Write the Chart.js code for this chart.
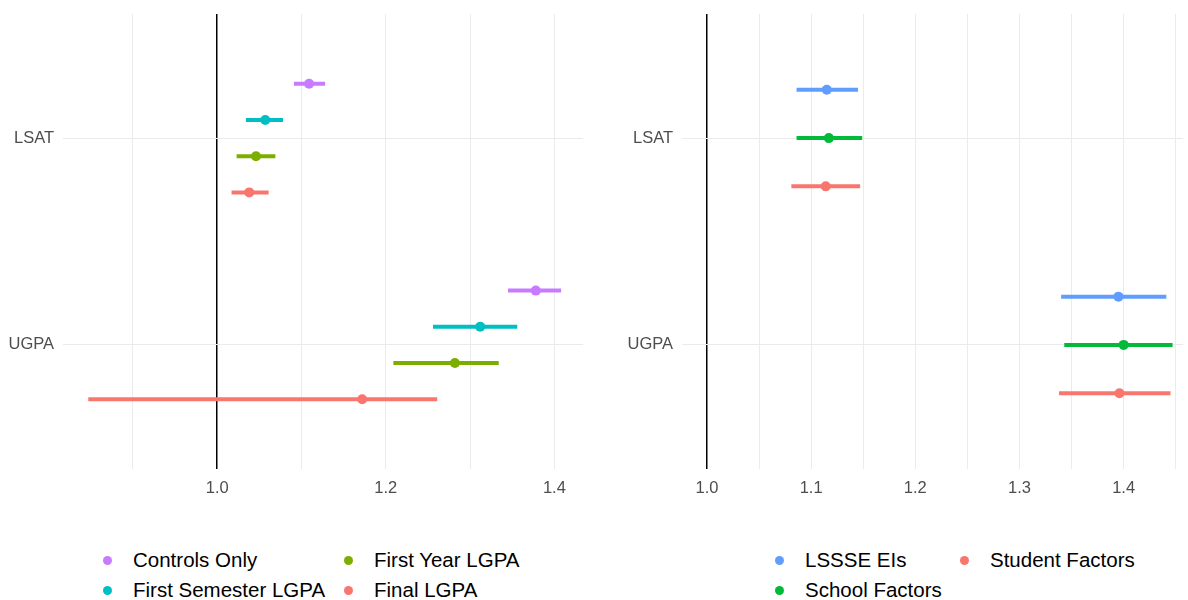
<!DOCTYPE html>
<html>
<head>
<meta charset="utf-8">
<script src="https://cdn.jsdelivr.net/npm/chart.js@4/dist/chart.umd.min.js"></script>
<style>
  html, body { margin: 0; padding: 0; background: #ffffff; }
  body { width: 1188px; height: 600px; position: relative; overflow: hidden;
         font-family: "Liberation Sans", Arial, sans-serif; }
  .panel { position: absolute; top: 0; width: 594px; height: 500px; }
  #leftPanel { left: 0; }
  #rightPanel { left: 594px; }
  .legend-item { position: absolute; height: 24px; display: flex; align-items: center;
                 white-space: nowrap; font-size: 20.5px; color: #000000; }
  .legend-dot { width: 9px; height: 9px; border-radius: 50%; flex: none; }
  .legend-text { margin-left: 21.5px; }
</style>
</head>
<body>
<div id="leftPanel" class="panel"><canvas id="leftChart" width="594" height="500"></canvas></div>
<div id="rightPanel" class="panel"><canvas id="rightChart" width="594" height="500"></canvas></div>
<div id="legends"></div>

<script>
// ---------- data ----------
const categories = ['LSAT', 'UGPA'];

// Left panel: odds ratios with confidence intervals, per model (values listed as [LSAT, UGPA])
const leftSeries = ['Controls Only', 'First Semester LGPA', 'First Year LGPA', 'Final LGPA'];
const leftColors = ['#C77CFF', '#00BFC4', '#7CAE00', '#F8766D'];
const leftEstimate = [[1.109, 1.378], [1.057, 1.312], [1.046, 1.282], [1.038, 1.172]];
const leftLower    = [[1.091, 1.345], [1.034, 1.256], [1.023, 1.209], [1.017, 0.847]];
const leftUpper    = [[1.128, 1.408], [1.078, 1.356], [1.069, 1.334], [1.061, 1.261]];
const leftTicks    = [0.9, 1.0, 1.1, 1.2, 1.3, 1.4];
const leftTickLabels = [1.0, 1.2, 1.4];

// Right panel
const rightSeries = ['LSSSE EIs', 'School Factors', 'Student Factors'];
const rightColors = ['#619CFF', '#00BA38', '#F8766D'];
const rightEstimate = [[1.115, 1.395], [1.117, 1.400], [1.114, 1.396]];
const rightLower    = [[1.086, 1.340], [1.086, 1.343], [1.081, 1.338]];
const rightUpper    = [[1.145, 1.441], [1.149, 1.447], [1.147, 1.445]];
const rightTicks    = [1.0, 1.05, 1.1, 1.15, 1.2, 1.25, 1.3, 1.35, 1.4, 1.45];
const rightTickLabels = [1.0, 1.1, 1.2, 1.3, 1.4];

// ---------- drawing ----------
const FONT = '"Liberation Sans", Arial, sans-serif';
const DODGE = 0.7;

function near(a, b) { return Math.abs(a - b) < 1e-6; }

function buildDatasets(series, colors, est, lo, hi) {
  const n = series.length;
  const sets = [];
  series.forEach((name, s) => {
    const offset = (s - (n - 1) / 2) * (DODGE / n);
    categories.forEach((cat, c) => {
      const y = c + 1 + offset;
      sets.push({
        label: name + ' interval ' + cat,
        data: [{ x: lo[s][c], y: y }, { x: hi[s][c], y: y }],
        showLine: true,
        borderColor: colors[s],
        borderWidth: 4,
        borderCapStyle: 'butt',
        pointRadius: 0,
        pointHoverRadius: 0
      });
    });
    sets.push({
      label: name,
      data: categories.map((cat, c) => ({ x: est[s][c], y: c + 1 + offset })),
      showLine: false,
      pointRadius: 5,
      pointHoverRadius: 5,
      pointBorderWidth: 0,
      pointBackgroundColor: colors[s],
      backgroundColor: colors[s],
      borderColor: colors[s]
    });
  });
  return sets;
}

// keep the plot area flush with the layout padding (no room reserved for edge labels)
function noEdgePadding(scale) {
  scale.paddingTop = 0;
  scale.paddingBottom = 0;
  scale.paddingLeft = 0;
  scale.paddingRight = 0;
}

function makePanel(canvasId, opts) {
  return new Chart(document.getElementById(canvasId), {
    type: 'scatter',
    data: { datasets: buildDatasets(opts.series, opts.colors, opts.est, opts.lo, opts.hi) },
    options: {
      responsive: false,
      animation: false,
      events: [],
      layout: { padding: { top: 14, right: opts.padRight, left: 0, bottom: 0 } },
      plugins: { legend: { display: false }, tooltip: { enabled: false } },
      scales: {
        x: {
          type: 'linear',
          min: opts.xMin,
          max: opts.xMax,
          afterBuildTicks: (scale) => { scale.ticks = opts.ticks.map(v => ({ value: v })); },
          afterFit: (scale) => { scale.height = 31; noEdgePadding(scale); },
          border: { display: false },
          grid: {
            drawTicks: false,
            color: (ctx) => near(ctx.tick.value, 1) ? '#000000' : '#EBEBEB',
            lineWidth: (ctx) => near(ctx.tick.value, 1) ? 1.5 : 1
          },
          ticks: {
            autoSkip: false,
            maxRotation: 0,
            padding: 10,
            color: '#4D4D4D',
            font: { family: FONT, size: 16.5 },
            callback: (v) => opts.labelled.some(l => near(l, v)) ? Number(v).toFixed(1) : ''
          }
        },
        y: {
          type: 'linear',
          reverse: true,
          min: 0.4,
          max: 2.6,
          afterBuildTicks: (scale) => { scale.ticks = categories.map((c, i) => ({ value: i + 1 })); },
          afterFit: (scale) => { scale.width = opts.yWidth; noEdgePadding(scale); },
          border: { display: false },
          grid: { drawTicks: false, color: '#EBEBEB', lineWidth: 1 },
          ticks: {
            padding: 9,
            color: '#4D4D4D',
            font: { family: FONT, size: 16.5 },
            callback: (v) => categories[Math.round(v) - 1]
          }
        }
      }
    }
  });
}

makePanel('leftChart', {
  series: leftSeries, colors: leftColors, est: leftEstimate, lo: leftLower, hi: leftUpper,
  xMin: 0.817, xMax: 1.434, ticks: leftTicks, labelled: leftTickLabels, yWidth: 63, padRight: 11
});
makePanel('rightChart', {
  series: rightSeries, colors: rightColors, est: rightEstimate, lo: rightLower, hi: rightUpper,
  xMin: 0.976, xMax: 1.457, ticks: rightTicks, labelled: rightTickLabels, yWidth: 88, padRight: 0
});

// ---------- legends (two rows, filled by column) ----------
function buildLegend(series, colors, columnX, rowY) {
  const host = document.getElementById('legends');
  series.forEach((name, i) => {
    const col = Math.floor(i / rowY.length);
    const row = i % rowY.length;
    const item = document.createElement('div');
    item.className = 'legend-item';
    item.style.left = (columnX[col] - 4.5) + 'px';
    item.style.top = (rowY[row] - 12) + 'px';
    const dot = document.createElement('span');
    dot.className = 'legend-dot';
    dot.style.background = colors[i];
    const txt = document.createElement('span');
    txt.className = 'legend-text';
    txt.textContent = name;
    item.appendChild(dot);
    item.appendChild(txt);
    host.appendChild(item);
  });
}
buildLegend(leftSeries, leftColors, [107, 348], [560, 590]);
buildLegend(rightSeries, rightColors, [779, 964], [560, 590]);
</script>
</body>
</html>
